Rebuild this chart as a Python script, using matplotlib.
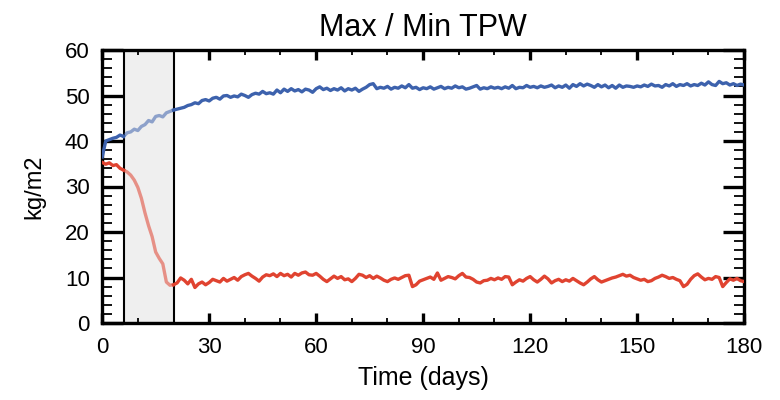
import numpy as np
import matplotlib
matplotlib.use("Agg")
import matplotlib.pyplot as plt
from matplotlib.ticker import MultipleLocator

plt.rcParams['font.family'] = ['Liberation Sans', 'DejaVu Sans']

# daily values, day 0..180
days = np.arange(0, 181)

tpw_max = [
    36.5, 40.0, 40.3, 40.6, 40.8, 41.3, 41.0, 41.8, 42.0, 42.6,
    42.3, 43.2, 43.6, 44.5, 44.2, 45.4, 45.6, 45.3, 46.2, 46.5,
    46.8, 47.0, 47.2, 47.4, 47.8, 48.0, 48.4, 48.2, 48.9, 49.1,
    48.8, 49.4, 49.6, 49.2, 49.9, 50.0, 49.6, 49.9, 49.7, 50.3,
    50.0, 49.6, 50.2, 50.5, 50.3, 50.9, 50.4, 50.6, 50.3, 51.2,
    50.6, 51.4, 50.9, 51.5, 51.0, 51.3, 50.8, 51.4, 51.2, 50.7,
    51.5, 51.9, 51.3, 51.6, 51.1, 51.5, 51.2, 51.7, 51.0, 51.5,
    51.2, 51.6, 50.9, 51.4, 51.8, 52.4, 52.6, 51.5, 51.8, 51.6,
    52.0, 51.4, 51.8, 51.6, 52.1, 51.7, 52.4, 51.6, 51.8, 51.3,
    51.7, 51.5, 51.9, 51.4, 51.7, 52.0, 51.5, 51.8, 51.6, 52.1,
    51.7, 51.9, 51.4, 51.6, 51.9, 52.2, 51.4, 51.7, 51.5, 51.9,
    51.6, 51.8, 51.5, 51.9, 51.6, 52.2, 51.5, 51.8, 51.7, 52.2,
    51.8, 52.0, 51.7, 52.1, 51.8, 52.0, 52.3, 51.7, 52.1, 51.8,
    52.3, 51.6, 52.4, 52.0, 52.6, 52.1, 52.5, 52.2, 51.8, 52.4,
    51.9, 52.3, 51.7, 52.2, 51.6, 52.3, 51.8, 52.1, 52.0, 51.8,
    52.1, 51.9, 52.3, 52.0, 52.5, 52.1, 52.2, 51.8, 52.4, 52.1,
    52.6, 52.0, 52.4, 52.2, 52.6, 52.1, 52.4, 52.2, 52.7, 52.3,
    53.0, 52.4, 52.2, 53.1, 52.6, 52.8, 52.3, 52.6, 52.2, 52.5,
    52.3,
]

tpw_min = [
    35.3, 34.9, 35.2, 34.6, 34.8, 34.0, 33.6, 33.2, 32.5, 31.4,
    29.8, 27.4, 24.2, 21.4, 19.0, 15.6, 14.2, 13.0, 9.0, 8.3,
    8.4, 8.8, 9.9, 9.4, 8.6, 9.6, 7.8, 8.6, 9.0, 8.4,
    8.9, 9.6, 9.3, 9.0, 9.8, 9.2, 9.6, 10.0, 9.4, 10.2,
    10.6, 10.9, 10.3, 9.8, 9.2, 10.1, 10.6, 10.4, 10.8, 10.2,
    10.9, 10.4, 10.7, 10.1, 10.9, 10.5, 11.0, 11.2, 10.6, 10.5,
    10.9, 10.3, 9.6, 9.1, 9.7, 10.3, 9.8, 10.2, 9.5, 9.7,
    9.1, 9.8, 10.7, 10.5, 10.0, 10.4, 9.8, 10.3, 9.9, 9.4,
    9.1, 9.6, 9.9, 9.6, 10.0, 10.4, 10.5, 8.0, 8.4, 9.2,
    9.5, 9.8, 10.1, 9.6, 11.0, 9.4, 9.8, 10.2, 10.0, 9.7,
    10.4, 10.9, 10.1, 10.0, 9.6, 9.0, 8.8, 9.3, 9.4, 9.8,
    9.5, 9.9, 9.6, 10.2, 10.1, 8.4, 9.0, 9.5, 9.2, 9.8,
    10.2, 9.5, 9.0, 9.6, 10.3, 9.7, 8.8, 9.3, 9.6, 9.1,
    9.5, 9.2, 9.8, 9.3, 8.8, 8.4, 9.0, 9.7, 10.2, 9.5,
    9.0, 9.3, 9.6, 9.9, 10.1, 10.4, 10.7, 10.3, 10.5, 10.0,
    9.7, 9.4, 9.6, 9.1, 9.3, 9.8, 10.1, 10.5, 10.2, 9.8,
    10.0, 9.6, 9.3, 8.0, 8.5, 9.6, 10.4, 10.8, 10.1, 9.5,
    9.8, 9.6, 10.2, 10.0, 8.0, 8.9, 9.7, 9.4, 9.8, 9.3,
    9.1,
]

spinup = (6, 20)  # shaded period, days

fig = plt.figure(figsize=(7.8, 4.0), dpi=100)
ax = fig.add_axes([0.131, 0.1925, 0.823, 0.6825])

ax.axvspan(spinup[0], spinup[1], facecolor='#efefef', edgecolor='black', lw=1.5, zorder=1)

blue = '#3d62ad'
red = '#e04330'
tpw_max = np.array(tpw_max)
tpw_min = np.array(tpw_min)
a, b = spinup
for y, c in [(tpw_max, blue), (tpw_min, red)]:
    ax.plot(days[:a + 1], y[:a + 1], color=c, lw=2.4, zorder=3)
    ax.plot(days[a:b + 1], y[a:b + 1], color=c, lw=2.4, alpha=0.55, zorder=3)
    ax.plot(days[b:], y[b:], color=c, lw=2.4, zorder=3)

ax.set_xlim(0, 180)
ax.set_ylim(0, 60)
ax.xaxis.set_major_locator(MultipleLocator(30))
ax.xaxis.set_minor_locator(MultipleLocator(10))
ax.yaxis.set_major_locator(MultipleLocator(10))
ax.yaxis.set_minor_locator(MultipleLocator(2))

ax.tick_params(which='both', direction='in', top=True, right=True, labelsize=16)
ax.tick_params(axis='x', which='major', length=7.2, width=2.4, pad=10)
ax.tick_params(axis='x', which='minor', length=3.6, width=1.3)
ax.tick_params(axis='y', which='major', length=15, width=2.4, pad=9)
ax.tick_params(axis='y', which='minor', length=7.2, width=1.3)
for s in ax.spines.values():
    s.set_linewidth(2.4)

ax.set_title('Max / Min TPW', fontsize=22, pad=10)
ax.set_xlabel('Time (days)', fontsize=18, labelpad=6)
ax.set_ylabel('kg/m2', fontsize=17, labelpad=14)

fig.savefig('out.png', dpi=100)
